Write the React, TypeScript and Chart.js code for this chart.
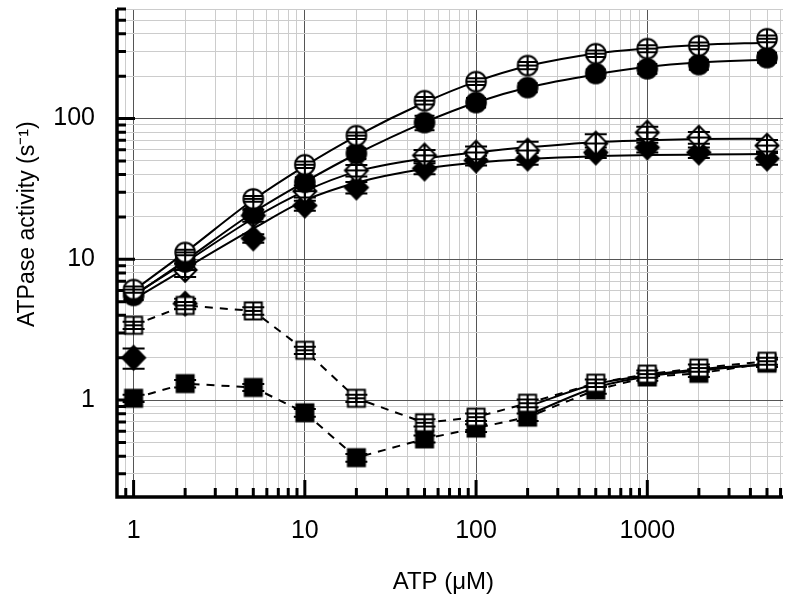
import React, { useEffect, useRef } from 'react';
import { Chart, registerables } from 'chart.js';

Chart.register(...registerables);

// ATP concentrations (µM)
const atp = [1, 2, 5, 10, 20, 50, 100, 200, 500, 1000, 2000, 5000];

// Measured ATPase activities (s^-1) and their errors
const openCircle = [6.1, 11.2, 26.9, 47, 75.7, 134, 183, 238, 289, 314, 329, 369];
const openCircleErr = [0.3, 0.5, 1.3, 2.5, 4, 8, 10, 14, 15, 18, 18, 20];
const filledCircle = [5.55, 9.6, 21.1, 35.3, 56.5, 93.7, 130, 166, 209, 226, 242, 271];
const filledCircleErr = [0.4, 0.8, 1.7, 3, 5, 11, 10, 12, 14, 18, 20, 22];
const openDiamond = [null, 8.4, 20.5, 30.5, 42.8, 54.7, 57.4, 59.3, 66.5, 79.6, 73.3, 64.3];
const openDiamondErr = [0, 0.9, 2, 3, 4, 5, 6, 9, 11, 8, 7, 6];
const filledDiamond = [2.0, 4.85, 14.1, 24.1, 32.4, 44.2, 50.4, 52, 57.4, 62.3, 57.4, 52];
const filledDiamondErr = [0.33, 0.4, 1, 2, 3, 4, 4, 5, 5, 5, 5, 5];
const openSquare = [3.4, 4.7, 4.3, 2.26, 1.03, 0.69, 0.757, 0.95, 1.32, 1.53, 1.69, 1.89];
const openSquareErr = [0.2, 0.28, 0.26, 0.13, 0.06, 0.04, 0.045, 0.06, 0.08, 0.09, 0.1, 0.11];
const filledSquare = [1.03, 1.31, 1.23, 0.813, 0.39, 0.53, 0.633, 0.757, 1.18, 1.46, 1.55, 1.83];
const filledSquareErr = [0.06, 0.08, 0.07, 0.05, 0.025, 0.03, 0.04, 0.045, 0.07, 0.09, 0.09, 0.11];

// Fitted curves
const openCircleFit = [6.0, 11.2, 26.5, 46, 75, 130, 183, 236, 290, 315, 333, 346];
const filledCircleFit = [5.5, 9.8, 21.5, 35.5, 56, 94, 130, 166, 206, 233, 250, 262];
const openDiamondFit = [5.6, 9.5, 19.5, 30.5, 42, 52, 57.5, 62.5, 68, 70, 71.5, 72];
const filledDiamondFit = [5.2, 8.6, 16.5, 26.2, 35, 44, 48.5, 51.5, 54, 55, 55.5, 56];
const squareFitAtp = [200, 500, 1000, 2000, 5000];
const openSquareFit = [0.9, 1.3, 1.5, 1.66, 1.8];
const filledSquareFit = [0.78, 1.23, 1.47, 1.62, 1.8];

// Axis ticks
const xTicks = [0.9, 1, 2, 3, 4, 5, 6, 7, 8, 9, 10, 20, 30, 40, 50, 60, 70, 80, 90, 100, 200, 300, 400, 500, 600, 700, 800, 900, 1000, 2000, 3000, 4000, 5000, 6000];
const xTickLabels: Record<string, string> = { '1': '1', '10': '10', '100': '100', '1000': '1000' };
const yTicks = [0.3, 0.4, 0.5, 0.6, 0.7, 0.8, 0.9, 1, 2, 3, 4, 5, 6, 7, 8, 9, 10, 20, 30, 40, 50, 60, 70, 80, 90, 100, 200, 300, 400, 500, 600];
const yTickLabels: Record<string, string> = { '1': '1', '10': '10', '100': '100' };

const FONT = "'Liberation Sans', Arial, Helvetica, sans-serif";

function makeMarker(shape: 'circle' | 'diamond' | 'square', filled: boolean): HTMLCanvasElement {
  const c = document.createElement('canvas');
  const size = 28;
  c.width = size;
  c.height = size;
  const g = c.getContext('2d') as CanvasRenderingContext2D;
  const m = size / 2;
  g.lineWidth = 2;
  g.strokeStyle = '#000';
  g.fillStyle = filled ? '#000' : '#fff';
  g.beginPath();
  let w = 0;
  let h = 0;
  if (shape === 'circle') {
    w = h = 9.8;
    g.arc(m, m, 9.8, 0, Math.PI * 2);
  } else if (shape === 'diamond') {
    w = 11.5;
    h = 11.8;
    g.moveTo(m, m - h);
    g.lineTo(m + w, m);
    g.lineTo(m, m + h);
    g.lineTo(m - w, m);
    g.closePath();
  } else {
    w = h = 8.5;
    g.rect(m - w, m - h, 2 * w, 2 * h);
  }
  g.fill();
  g.stroke();
  if (!filled) {
    g.beginPath();
    g.moveTo(m - w, m);
    g.lineTo(m + w, m);
    g.moveTo(m, m - h);
    g.lineTo(m, m + h);
    g.stroke();
  }
  return c;
}

function pts(xs: number[], ys: (number | null)[], es?: number[]) {
  const out: any[] = [];
  xs.forEach((x, i) => {
    const y = ys[i];
    if (y === null || y === undefined) return;
    out.push({ x, y, e: es ? es[i] : 0 });
  });
  return out;
}

const errorBarPlugin = {
  id: 'errorBars',
  afterDatasetDraw(chart: any, args: any) {
    const ds = chart.data.datasets[args.index];
    if (!ds.isMarker) return;
    const { ctx } = chart;
    const xs = chart.scales.x;
    const ys = chart.scales.y;
    ctx.save();
    ctx.strokeStyle = '#000';
    ctx.lineWidth = 2;
    const cw = ds.capHalf || 10;
    ds.data.forEach((p: any) => {
      if (!p.e) return;
      const px = xs.getPixelForValue(p.x);
      const yT = ys.getPixelForValue(p.y + p.e);
      const yB = ys.getPixelForValue(Math.max(p.y - p.e, 1e-6));
      ctx.beginPath();
      ctx.moveTo(px, yT);
      ctx.lineTo(px, yB);
      ctx.moveTo(px - cw, yT);
      ctx.lineTo(px + cw, yT);
      ctx.moveTo(px - cw, yB);
      ctx.lineTo(px + cw, yB);
      ctx.stroke();
    });
    ctx.restore();
  },
};

const axesPlugin = {
  id: 'axesInward',
  beforeDatasetsDraw(chart: any) {
    const { ctx, chartArea: a } = chart;
    const xs = chart.scales.x;
    const ys = chart.scales.y;
    ctx.save();
    ctx.strokeStyle = '#000';
    ctx.lineCap = 'butt';
    ctx.lineWidth = 3;
    ctx.beginPath();
    xTicks.forEach((v) => {
      const px = xs.getPixelForValue(v);
      const len = xTickLabels[String(v)] ? 17 : 9;
      ctx.moveTo(px, a.bottom);
      ctx.lineTo(px, a.bottom - len);
    });
    yTicks.forEach((v) => {
      const py = ys.getPixelForValue(v);
      const len = yTickLabels[String(v)] ? 18 : 9;
      ctx.moveTo(a.left, py);
      ctx.lineTo(a.left + len, py);
    });
    ctx.stroke();
    ctx.lineWidth = 3.5;
    ctx.beginPath();
    ctx.moveTo(a.left, a.top);
    ctx.lineTo(a.left, a.bottom + 1.75);
    ctx.moveTo(a.left - 1.75, a.bottom);
    ctx.lineTo(a.right, a.bottom);
    ctx.stroke();
    ctx.restore();
  },
};

export default function App() {
  const ref = useRef<HTMLCanvasElement | null>(null);

  useEffect(() => {
    if (!ref.current) return;
    const mOpenCircle = makeMarker('circle', false);
    const mFilledCircle = makeMarker('circle', true);
    const mOpenDiamond = makeMarker('diamond', false);
    const mFilledDiamond = makeMarker('diamond', true);
    const mOpenSquare = makeMarker('square', false);
    const mFilledSquare = makeMarker('square', true);

    const fit = (xs: number[], ys: number[]) => ({
      data: pts(xs, ys),
      borderColor: '#000',
      borderWidth: 2,
      pointRadius: 0,
      showLine: true,
      fill: false,
      cubicInterpolationMode: 'monotone',
      order: 10,
    });

    const marker = (ys: (number | null)[], es: number[], style: HTMLCanvasElement, order: number, dashed: boolean, capHalf: number) => ({
      data: pts(atp, ys, es),
      isMarker: true,
      capHalf,
      pointStyle: style,
      pointRadius: 12,
      showLine: dashed,
      borderColor: '#000',
      borderWidth: 2,
      borderDash: dashed ? [8, 7] : [],
      tension: 0,
      fill: false,
      order,
    });

    const chart = new Chart(ref.current, {
      type: 'line',
      data: {
        datasets: [
          fit(atp, openCircleFit),
          fit(atp, filledCircleFit),
          fit(atp, openDiamondFit),
          fit(atp, filledDiamondFit),
          fit(squareFitAtp, openSquareFit),
          fit(squareFitAtp, filledSquareFit),
          marker(openCircle, openCircleErr, mOpenCircle, 0, false, 10),
          marker(filledCircle, filledCircleErr, mFilledCircle, 1, false, 10),
          marker(openSquare, openSquareErr, mOpenSquare, 2, true, 11),
          marker(filledSquare, filledSquareErr, mFilledSquare, 3, true, 11),
          marker(openDiamond, openDiamondErr, mOpenDiamond, 4, false, 11),
          marker(filledDiamond, filledDiamondErr, mFilledDiamond, 5, false, 11),
        ] as any,
      },
      options: {
        responsive: false,
        devicePixelRatio: 1,
        animation: false,
        parsing: true,
        layout: { autoPadding: false, padding: { top: 9, right: 8, bottom: 0, left: 0 } },
        plugins: {
          legend: { display: false },
          tooltip: { enabled: false },
        },
        scales: {
          x: {
            type: 'logarithmic',
            min: 0.8,
            max: 6200,
            border: { display: false },
            grid: {
              drawTicks: false,
              lineWidth: 1,
              color: (c: any) => (c.tick && xTickLabels[String(c.tick.value)] ? '#555555' : '#cccccc'),
            },
            afterBuildTicks: (s: any) => {
              s.ticks = xTicks.map((v) => ({ value: v }));
            },
            afterFit: (s: any) => {
              s.height = 107;
              s.paddingLeft = 0;
              s.paddingRight = 0;
            },
            ticks: {
              autoSkip: false,
              maxRotation: 0,
              minRotation: 0,
              padding: 19,
              color: '#000',
              font: { family: FONT, size: 25 },
              callback: (v: any) => xTickLabels[String(v)] ?? '',
            },
            title: {
              display: true,
              text: 'ATP (μM)  ',
              color: '#000',
              font: { family: FONT, size: 24 },
              padding: { top: 0, bottom: 7.6 },
            },
          },
          y: {
            type: 'logarithmic',
            min: 0.205,
            max: 600,
            border: { display: false },
            grid: {
              drawTicks: false,
              lineWidth: 1,
              color: (c: any) => (c.tick && yTickLabels[String(c.tick.value)] ? '#555555' : '#cccccc'),
            },
            afterBuildTicks: (s: any) => {
              s.ticks = yTicks.map((v) => ({ value: v }));
            },
            afterFit: (s: any) => {
              s.width = 117;
              s.paddingTop = 0;
              s.paddingBottom = 0;
            },
            ticks: {
              autoSkip: false,
              padding: 22,
              color: '#000',
              font: { family: FONT, size: 25 },
              callback: (v: any) => yTickLabels[String(v)] ?? '',
            },
            title: {
              display: true,
              text: '         ATPase activity (s⁻¹)',
              color: '#000',
              font: { family: FONT, size: 23 },
              padding: { top: 14, bottom: 0 },
            },
          },
        },
      } as any,
      plugins: [axesPlugin, errorBarPlugin],
    });
    return () => chart.destroy();
  }, []);

  return (
    <div style={{ position: 'fixed', left: 0, top: 0, width: 791, height: 604, background: '#fff' }}>
      <canvas ref={ref} width={791} height={604} style={{ display: 'block' }} />
    </div>
  );
}
